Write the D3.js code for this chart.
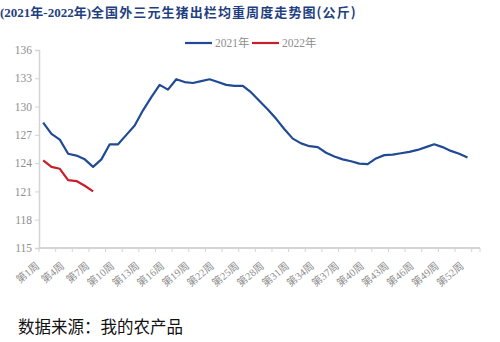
<!DOCTYPE html>
<html>
<head>
<meta charset="utf-8">
<script src="https://cdn.jsdelivr.net/npm/d3@7/dist/d3.min.js"></script>
<style>
    body { margin: 0; background: #fff; }
    #chart { width: 500px; height: 342px; }
</style>
</head>
<body>
<div id="chart"></div>
<script>

// week categories on the x axis (53 slots, label every 3rd)
let weeks = d3.range(1, 54).map(d => "第" + d + "周");
let tickWeeks = d3.range(1, 54, 3).map(d => "第" + d + "周");
let yTicks = [115, 118, 121, 124, 127, 130, 133, 136];

// 2021 weekly average weight (kg)
let values2021 = [128.3, 127.1, 126.5, 125.0, 124.8, 124.4, 123.6, 124.4, 126.0, 126.0,
                  127.0, 128.0, 129.6, 131.0, 132.3, 131.8, 132.9, 132.6, 132.5, 132.7,
                  132.9, 132.6, 132.3, 132.2, 132.2, 131.5, 130.6, 129.7, 128.7, 127.6,
                  126.6, 126.1, 125.8, 125.7, 125.1, 124.7, 124.4, 124.2, 123.95, 123.9,
                  124.5, 124.85, 124.9, 125.05, 125.2, 125.4, 125.7, 126.0, 125.7, 125.3,
                  125.0, 124.6];
// 2022
let values2022 = [124.3, 123.6, 123.4, 122.2, 122.1, 121.6, 121.0];

let seriesNames = ["2021年", "2022年"];
let seriesColors = ["#214a94", "#c8202b"];

let svg = d3.select("#chart").append("svg")
    .attr("width", 500)
    .attr("height", 342);

// title
let title = svg.append("text")
    .attr("x", 0)
    .attr("y", 17)
    .attr("fill", "#1f3f80")
    .attr("font-weight", "bold")
    .attr("font-size", 13);
title.append("tspan")
    .attr("font-family", "'Liberation Serif', 'Noto Sans CJK SC', serif")
    .text("(2021年-2022年)");
title.append("tspan")
    .attr("font-family", "'Noto Sans CJK SC', sans-serif")
    .attr("letter-spacing", 1.1)
    .text("全国外三元生猪出栏均重周度走势图(公斤)");

// scales
let x = d3.scaleBand()
    .domain(weeks)
    .range([39, 480])
    .padding(0);

let y = d3.scaleLinear()
    .domain([115, 136])
    .range([248, 50]);

let axisColor = "#d4d4d4";
let labelColor = "#8e8e8e";
let labelFont = "'Liberation Serif', 'Noto Sans CJK SC', serif";

// y axis
let yAxis = svg.append("g")
    .attr("transform", "translate(39,0)")
    .call(d3.axisLeft(y).tickValues(yTicks).tickSize(4).tickPadding(3).tickFormat(d3.format("d")));
yAxis.select(".domain").attr("stroke", axisColor).attr("stroke-width", 1.5);
yAxis.selectAll(".tick line").attr("stroke", axisColor);
yAxis.selectAll(".tick text")
    .attr("fill", labelColor)
    .attr("font-family", labelFont)
    .attr("font-size", 11.5);

// x axis: ticks every 2 categories on band edges, labels every 3
let bw = x.bandwidth();
let gx = svg.append("g");
gx.append("line")
    .attr("x1", 39).attr("x2", 480)
    .attr("y1", 248).attr("y2", 248)
    .attr("stroke", axisColor)
    .attr("stroke-width", 2);

let edgeTicks = d3.range(0, weeks.length + 1, 2).map(i => 39 + i * bw).concat([480]);
gx.selectAll("line.tk")
    .data(edgeTicks)
    .enter()
    .append("line")
    .attr("class", "tk")
    .attr("x1", d => d).attr("x2", d => d)
    .attr("y1", 248).attr("y2", 252)
    .attr("stroke", axisColor);

gx.selectAll("text.xl")
    .data(tickWeeks)
    .enter()
    .append("text")
    .attr("class", "xl")
    .attr("text-anchor", "end")
    .attr("fill", labelColor)
    .attr("font-family", labelFont)
    .attr("font-size", 10.5)
    .attr("transform", d => "translate(" + (x(d) + bw / 2 - 3) + ",267) rotate(-40)")
    .text(d => d);

// lines
let line = d3.line()
    .x((d, i) => x(weeks[i]) + bw / 2)
    .y(d => y(d));

[values2021, values2022].forEach(function (vals, i) {
    svg.append("path")
        .datum(vals)
        .attr("fill", "none")
        .attr("stroke", seriesColors[i])
        .attr("stroke-width", 2.2)
        .attr("stroke-linejoin", "round")
        .attr("d", line);
});

// legend
let legendX = [185, 252];
seriesNames.forEach(function (name, i) {
    let g = svg.append("g").attr("transform", "translate(" + legendX[i] + ",43)");
    g.append("line")
        .attr("x1", 0).attr("x2", 27)
        .attr("stroke", seriesColors[i])
        .attr("stroke-width", 2.2);
    g.append("text")
        .attr("x", 30)
        .attr("y", 4)
        .attr("fill", labelColor)
        .attr("font-family", labelFont)
        .attr("font-size", 11.5)
        .text(name);
});

// source note
svg.append("text")
    .attr("x", 18)
    .attr("y", 333)
    .attr("fill", "#111")
    .attr("font-family", "'Noto Sans CJK SC', sans-serif")
    .attr("font-size", 16.5)
    .text("数据来源：我的农产品");

</script>
</body>
</html>
